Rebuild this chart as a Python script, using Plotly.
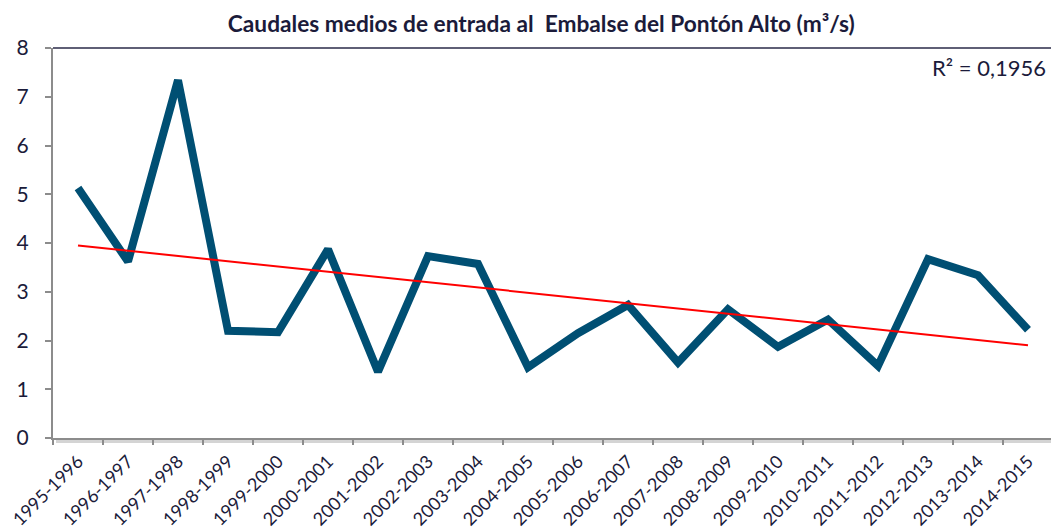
import numpy as np
import plotly.graph_objects as go

categories = ["1995-1996", "1996-1997", "1997-1998", "1998-1999", "1999-2000",
              "2000-2001", "2001-2002", "2002-2003", "2003-2004", "2004-2005",
              "2005-2006", "2006-2007", "2007-2008", "2008-2009", "2009-2010",
              "2010-2011", "2011-2012", "2012-2013", "2013-2014", "2014-2015"]
caudal = [5.13, 3.62, 7.34, 2.20, 2.17, 3.87, 1.36, 3.73, 3.57, 1.45,
          2.15, 2.73, 1.55, 2.64, 1.87, 2.43, 1.48, 3.67, 3.34, 2.22]
y_ticks = [0, 1, 2, 3, 4, 5, 6, 7, 8]
r2_label = "R² = 0,1956"
title_text = "Caudales medios de entrada al  Embalse del Pontón Alto (m³/s)"

idx = np.arange(len(categories))
slope, intercept = np.polyfit(idx, caudal, 1)
trend = slope * idx + intercept

fig = go.Figure()
fig.add_trace(go.Scatter(x=categories, y=caudal, mode="lines",
                         line=dict(color="#004f73", width=8), showlegend=False))
fig.add_trace(go.Scatter(x=categories, y=trend, mode="lines",
                         line=dict(color="#ff0000", width=2), showlegend=False))

fig.update_layout(
    width=1051, height=531,
    margin=dict(l=53, r=0, t=48, b=93, autoexpand=False),
    paper_bgcolor="white", plot_bgcolor="white",
    font=dict(family="Lato, Open Sans, sans-serif", color="#1b1b3a"),
    title=dict(text="<b>" + title_text + "</b>", x=0.515, xanchor="center",
               y=0.955, yanchor="middle",
               font=dict(size=22.7, family="Lato, Open Sans, sans-serif", color="#1b1b3a")),
    xaxis=dict(type="category", range=[-0.5, 19.46], showgrid=False, automargin=False,
               showline=True, linecolor="#8c8c8c", linewidth=2,
               ticks="outside", tickson="boundaries", ticklen=5,
               tickcolor="#8c8c8c", tickwidth=1.5, ticklabelstandoff=4,
               tickangle=-45, tickfont=dict(size=18, color="#1b1b3a")),
    yaxis=dict(range=[0, 8], tickvals=y_ticks, showgrid=False, automargin=False,
               showline=True, linecolor="#8c8c8c", linewidth=2,
               ticks="outside", ticklen=6, tickcolor="#8c8c8c", tickwidth=1.5,
               ticklabelstandoff=12,
               tickfont=dict(size=21, color="#1b1b3a"), zeroline=False),
    shapes=[
        dict(type="line", xref="paper", yref="paper", x0=0, x1=1, y0=1, y1=1,
             line=dict(color="#2a2a48", width=1.5)),
        dict(type="line", xref="paper", yref="paper", x0=0.003, x1=1, y0=-0.009, y1=-0.009,
             line=dict(color="#d4d4d4", width=3), layer="below"),
    ],
    annotations=[dict(text=r2_label, xref="paper", yref="paper", x=1.0, y=0.99,
                      xanchor="right", yanchor="top", showarrow=False, xshift=-3,
                      font=dict(size=22, color="#1b1b3a"))],
)

fig.write_html("out.html", config={"displayModeBar": False},
               post_script="document.body.style.margin='0';document.body.style.overflow='hidden';")
